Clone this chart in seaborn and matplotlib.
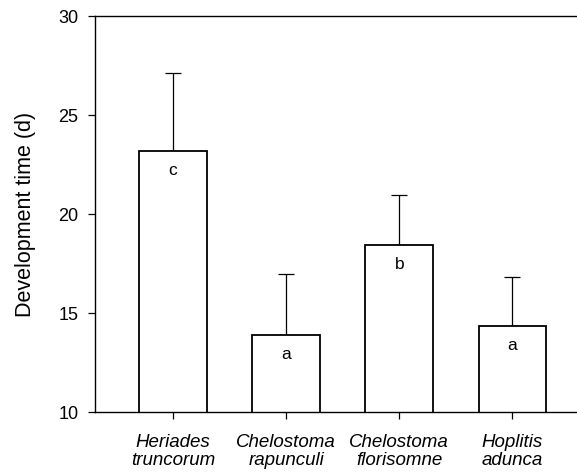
import pandas as pd
import seaborn as sns
import numpy as np
import matplotlib.pyplot as plt

species = ["Heriades\ntruncorum", "Chelostoma\nrapunculi", "Chelostoma\nflorisomne", "Hoplitis\nadunca"]
dev_time = [23.2, 13.9, 18.45, 14.35]
upper_err = [3.95, 3.1, 2.5, 2.5]
letters = ["c", "a", "b", "a"]

sns.set_style("ticks")
plt.rcParams['font.family'] = ['Liberation Sans', 'DejaVu Sans']
plt.rcParams.update({"text.color": "black", "axes.labelcolor": "black",
                     "xtick.color": "black", "ytick.color": "black",
                     "axes.edgecolor": "black"})

df = pd.DataFrame({"species": species, "time": dev_time})

fig, ax = plt.subplots(figsize=(5.77, 4.76), dpi=100)
fig.subplots_adjust(left=0.165, right=1.0, top=0.966, bottom=0.134)

sns.barplot(data=df, x="species", y="time", color="white", edgecolor="black",
            linewidth=1.3, width=0.6, errorbar=None, ax=ax, zorder=2)
ax.errorbar(np.arange(len(species)), dev_time, yerr=[np.zeros(len(species)), upper_err],
            fmt="none", ecolor="black", elinewidth=0.9, capsize=6, capthick=0.9, zorder=1)

for i, (v, lab) in enumerate(zip(dev_time, letters)):
    ax.text(i, v - 1.0, lab, ha="center", va="center", fontsize=12.5, zorder=3)

ax.set_ylim(10, 30)
ax.set_yticks([10, 15, 20, 25, 30])
ax.set_xlim(-0.686, 3.57)
ax.set_xlabel("")
ax.set_ylabel("Development time (d)", fontsize=15.5, labelpad=16)
ax.tick_params(axis="y", labelsize=13, length=5, width=0.9, direction="out", pad=7)
ax.tick_params(axis="x", labelsize=13.5, length=5, width=0.9, direction="out", pad=11)
for t in ax.get_xticklabels():
    t.set_fontstyle("italic")
    t.set_linespacing(1.05)
ax.spines["right"].set_visible(False)
for s in ["left", "bottom", "top"]:
    ax.spines[s].set_linewidth(1.0)

plt.savefig("out.png", dpi=100)
